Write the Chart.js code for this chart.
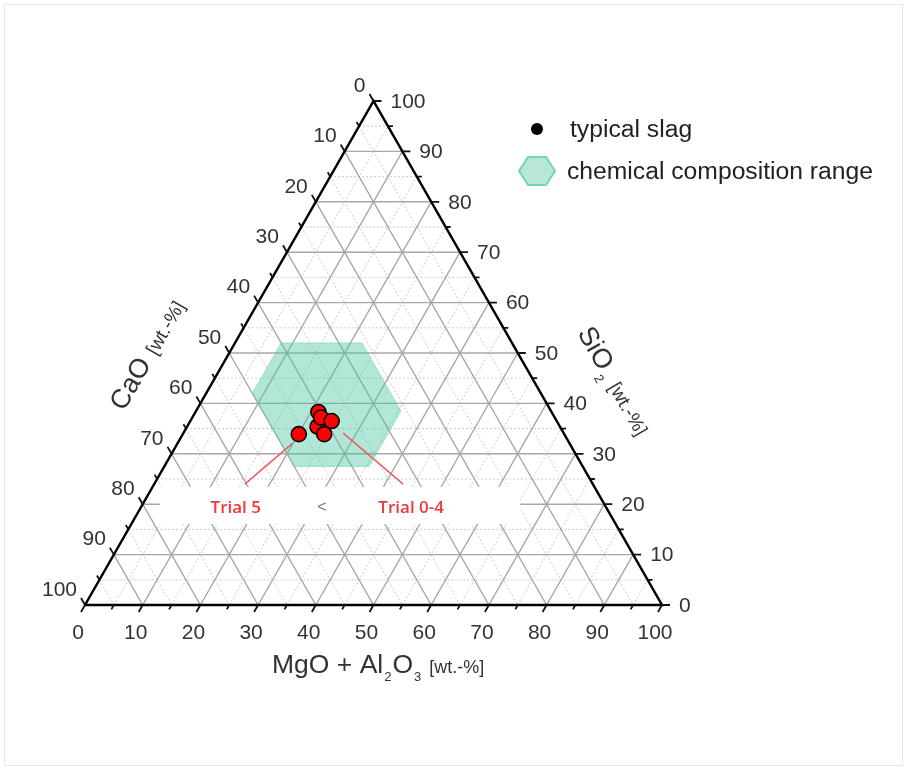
<!DOCTYPE html>
<html>
<head>
<meta charset="utf-8">
<script src="https://cdn.jsdelivr.net/npm/chart.js@4.4.0/dist/chart.umd.min.js"></script>
<style>
  html, body { margin: 0; padding: 0; background: #fff; }
  #wrap { position: relative; width: 906px; height: 769px; }
  #ternary { position: absolute; left: 0; top: 0; }
  #frame { position: absolute; left: 4px; top: 4px; width: 899px; height: 762px;
           border: 1px solid #e8e8e8; box-sizing: border-box; pointer-events: none; }
</style>
</head>
<body>
<div id="wrap">
  <canvas id="ternary" width="906" height="769"></canvas>
  <div id="frame"></div>
</div>
<script>
/* --------------- Axis ticks (wt.-%) --------------------- */
const axisTicks = [0, 10, 20, 30, 40, 50, 60, 70, 80, 90, 100];
const minorTicks = [5, 15, 25, 35, 45, 55, 65, 75, 85, 95];
const gridMajor = [10, 20, 30, 40, 50, 60, 70, 80, 90];

/* --------------- Typical slag (Trial 0-5) --------------------- */
const trialNames = ["Trial 0", "Trial 1", "Trial 2", "Trial 3", "Trial 4", "Trial 5"];
const slagCaO      = [40.4, 42.0, 40.5, 39.0, 41.6, 46.0];
const slagSiO2     = [38.3, 35.4, 37.2, 36.5, 33.9, 33.9];
const slagMgOAl2O3 = [21.3, 22.6, 22.3, 24.5, 24.5, 20.1];

/* --------------- Chemical composition range --------------------- */
const rangeCaO      = [26, 50];
const rangeSiO2     = [27.5, 52];
const rangeMgOAl2O3 = [8, 35.5];

/* --------------- Ternary -> cartesian --------------------- */
const H = Math.sqrt(3) / 2;
const toXY = (cao, sio2, mgo) => ({ x: mgo + sio2 / 2, y: sio2 * H });

// grid lines, one dataset per style, broken with null points
const gridLines = (values) => {
  const pts = [];
  values.forEach((v) => {
    pts.push(toXY(100 - v, v, 0), toXY(0, v, 100 - v), { x: null, y: null }); // SiO2 const
    pts.push(toXY(100 - v, 0, v), toXY(0, 100 - v, v), { x: null, y: null }); // MgO+Al2O3 const
    pts.push(toXY(v, 100 - v, 0), toXY(v, 0, 100 - v), { x: null, y: null }); // CaO const
  });
  return pts;
};

const hexVertices = () => {
  const [cMin, cMax] = rangeCaO, [sMin, sMax] = rangeSiO2, [mMin, mMax] = rangeMgOAl2O3;
  const v = [
    [100 - sMax - mMin, sMax, mMin],
    [cMin, sMax, 100 - sMax - cMin],
    [cMin, 100 - cMin - mMax, mMax],
    [100 - mMax - sMin, sMin, mMax],
    [cMax, sMin, 100 - sMin - cMax],
    [cMax, 100 - cMax - mMin, mMin],
  ];
  const pts = v.map((t) => toXY(t[0], t[1], t[2]));
  pts.push(pts[0]);
  return pts;
};

const slagPoints = trialNames.map((_, i) => toXY(slagCaO[i], slagSiO2[i], slagMgOAl2O3[i]));
const frame = [toXY(100, 0, 0), toXY(0, 0, 100), toXY(0, 100, 0), toXY(100, 0, 0)];

/* --------------- Ticks, labels, titles, legend --------------------- */
const SANS = '"Liberation Sans", Arial, sans-serif';
const TEXT = "#333";

const ternaryDecor = {
  id: "ternaryDecor",
  afterDatasetsDraw(chart) {
    const { ctx, scales: { x, y } } = chart;
    const px = (p) => ({ x: x.getPixelForValue(p.x), y: y.getPixelForValue(p.y) });
    ctx.save();

    // ticks
    const allTicks = axisTicks.concat(minorTicks);
    ctx.strokeStyle = "#111";
    ctx.lineWidth = 1.8;
    allTicks.forEach((v) => {
      const len = axisTicks.includes(v) ? 8 : 5;
      const l = px(toXY(v, 100 - v, 0));
      const r = px(toXY(0, v, 100 - v));
      const b = px(toXY(100 - v, 0, v));
      ctx.beginPath();
      ctx.moveTo(l.x, l.y); ctx.lineTo(l.x - 0.5 * len, l.y - H * len);
      ctx.moveTo(r.x, r.y); ctx.lineTo(r.x + len, r.y);
      ctx.moveTo(b.x, b.y); ctx.lineTo(b.x - 0.5 * len, b.y + H * len);
      ctx.stroke();
    });

    // tick labels
    ctx.fillStyle = TEXT;
    ctx.font = "21px " + SANS;
    ctx.textBaseline = "middle";
    axisTicks.forEach((v) => {
      const l = px(toXY(v, 100 - v, 0));
      ctx.textAlign = "right";
      ctx.fillText(String(v), l.x - 8, l.y - 15);
      const r = px(toXY(0, v, 100 - v));
      ctx.textAlign = "left";
      ctx.fillText(String(v), r.x + 17, r.y + 1);
      const b = px(toXY(100 - v, 0, v));
      ctx.textAlign = "center";
      ctx.fillText(String(v), b.x - 7, b.y + 28);
    });

    // axis titles (mixed sizes, subscripts)
    const runs = (parts, x0, y0, angle) => {
      ctx.save();
      ctx.translate(x0, y0);
      ctx.rotate(angle);
      ctx.textAlign = "left";
      ctx.textBaseline = "alphabetic";
      let cx = 0;
      parts.forEach(([t, size, dy, gap]) => {
        cx += gap || 0;
        ctx.font = size + "px " + SANS;
        ctx.fillText(t, cx, dy);
        cx += ctx.measureText(t).width;
      });
      ctx.restore();
    };
    ctx.fillStyle = TEXT;
    runs([["MgO + Al", 26.5, 0], ["2", 13, 8, 1], ["O", 26.5, 0, 1], ["3", 13, 8, 1], ["[wt.-%]", 18, 0, 8]], 272, 673, 0);
    runs([["CaO", 27, 0], ["[wt.-%]", 19, 0, 9]], 124, 412, -Math.PI / 3);
    runs([["SiO", 27, 0], ["2", 13, 8, 2], ["[wt.-%]", 19, 0, 8]], 577, 333, Math.PI / 3);

    // white label box behind trial annotations
    ctx.fillStyle = "#fff";
    ctx.fillRect(160, 487, 360, 37);

    // annotation lines and labels
    const p5 = px(slagPoints[5]);
    const p4 = px(slagPoints[4]);
    ctx.strokeStyle = "#f05a5a";
    ctx.lineWidth = 1.4;
    ctx.beginPath();
    ctx.moveTo(p5.x - 6, p5.y + 9); ctx.lineTo(p5.x - 54, p5.y + 50);
    ctx.moveTo(p4.x + 19, p4.y - 1); ctx.lineTo(p4.x + 79, p4.y + 50);
    ctx.stroke();
    ctx.fillStyle = "#f0363c";
    ctx.font = '600 17px "Open Sans", "Noto Sans", sans-serif';
    ctx.textAlign = "center";
    ctx.textBaseline = "middle";
    ctx.fillText("Trial 5", p5.x - 63, p5.y + 74);
    ctx.fillText("Trial 0-4", p4.x + 87, p4.y + 74);
    ctx.fillStyle = "#777";
    ctx.font = "16px " + SANS;
    ctx.fillText("<", 322, 508);

    // legend
    ctx.fillStyle = "#000";
    ctx.beginPath();
    ctx.arc(537, 129, 6, 0, Math.PI * 2);
    ctx.fill();
    ctx.beginPath();
    const hx = 537, hy = 171;
    [[-18, 0], [-9, -14], [9, -14], [18, 0], [9, 14], [-9, 14]].forEach(([dx, dy], i) =>
      i ? ctx.lineTo(hx + dx, hy + dy) : ctx.moveTo(hx + dx, hy + dy));
    ctx.closePath();
    ctx.fillStyle = "rgba(72,195,160,0.4)";
    ctx.fill();
    ctx.strokeStyle = "#6fd6b8";
    ctx.lineWidth = 2;
    ctx.stroke();
    ctx.fillStyle = "#222";
    ctx.font = "24.7px " + SANS;
    ctx.textAlign = "left";
    ctx.textBaseline = "middle";
    ctx.fillText("typical slag", 570, 130);
    ctx.fillText("chemical composition range", 567, 172);

    ctx.restore();
  },
};

/* --------------- Chart --------------------- */
const ternaryChart = new Chart(document.getElementById("ternary"), {
  type: "scatter",
  plugins: [ternaryDecor],
  data: {
    datasets: [
      {
        label: "typical slag",
        data: slagPoints,
        backgroundColor: "#ff0000",
        borderColor: "#000",
        borderWidth: 1.6,
        pointRadius: 7.5,
        order: 0,
        clip: false,
      },
      {
        label: "frame",
        data: frame,
        showLine: true,
        borderColor: "#000",
        borderWidth: 2.5,
        pointRadius: 0,
        order: 1,
        clip: false,
      },
      {
        label: "chemical composition range",
        data: hexVertices(),
        showLine: true,
        fill: "shape",
        backgroundColor: "rgba(72,195,160,0.42)",
        borderColor: "rgba(100,205,175,0.5)",
        borderWidth: 1,
        pointRadius: 0,
        order: 2,
      },
      {
        label: "grid major",
        data: gridLines(gridMajor),
        showLine: true,
        spanGaps: false,
        borderColor: "#a8a8a8",
        borderWidth: 1.4,
        pointRadius: 0,
        order: 3,
      },
      {
        label: "grid minor",
        data: gridLines(minorTicks),
        showLine: true,
        spanGaps: false,
        borderColor: "#c8c8c8",
        borderWidth: 1,
        borderDash: [2, 2],
        pointRadius: 0,
        order: 4,
      },
    ],
  },
  options: {
    responsive: false,
    animation: false,
    layout: { padding: { left: 85, right: 244, top: 101, bottom: 164 } },
    scales: {
      x: { type: "linear", min: 0, max: 100, display: false },
      y: { type: "linear", min: 0, max: 100 * H, display: false },
    },
    plugins: {
      legend: { display: false },
      tooltip: { enabled: false },
    },
  },
});
</script>
</body>
</html>
